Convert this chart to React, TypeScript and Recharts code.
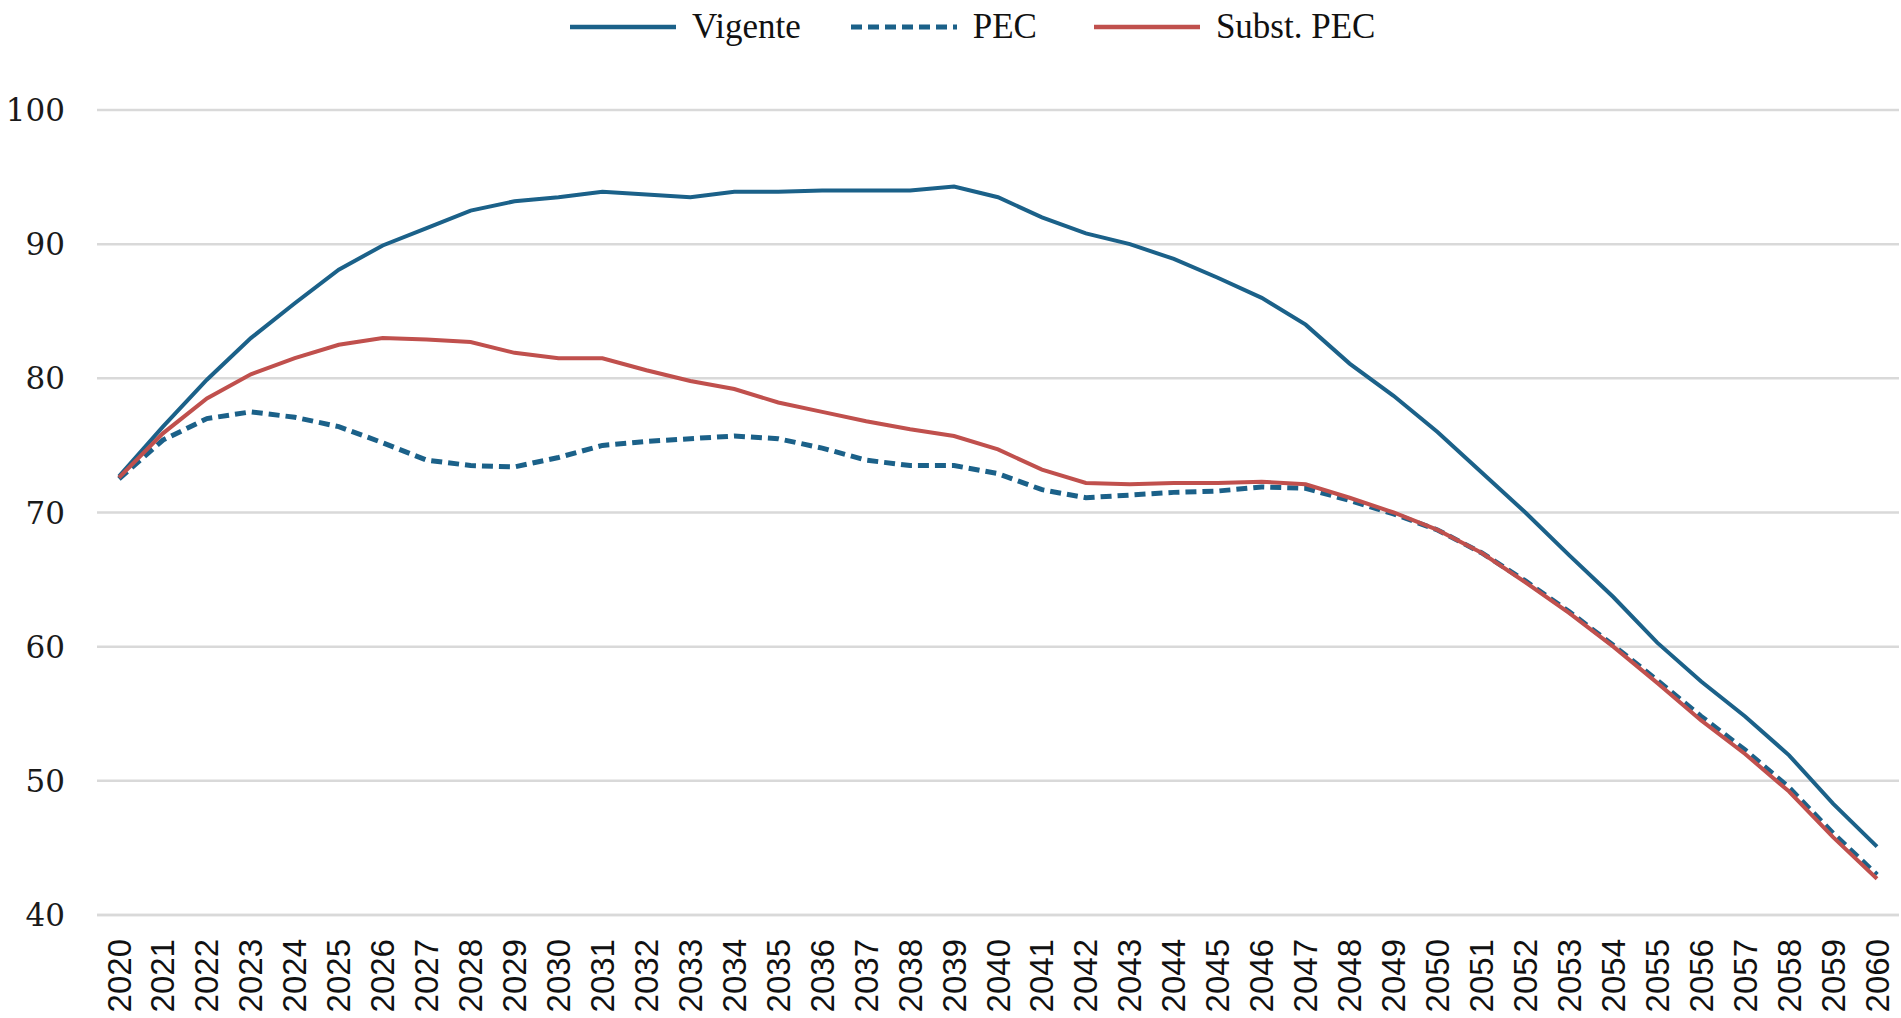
import React from 'react';
import { LineChart, Line, XAxis, YAxis, CartesianGrid } from 'recharts';

// anos do eixo horizontal
const years = [
  '2020', '2021', '2022', '2023', '2024', '2025', '2026', '2027', '2028', '2029',
  '2030', '2031', '2032', '2033', '2034', '2035', '2036', '2037', '2038', '2039',
  '2040', '2041', '2042', '2043', '2044', '2045', '2046', '2047', '2048', '2049',
  '2050', '2051', '2052', '2053', '2054', '2055', '2056', '2057', '2058', '2059',
  '2060',
];

const vigente = [
  72.7, 76.4, 79.9, 83.0, 85.6, 88.1, 89.9, 91.2, 92.5, 93.2,
  93.5, 93.9, 93.7, 93.5, 93.9, 93.9, 94.0, 94.0, 94.0, 94.3,
  93.5, 92.0, 90.8, 90.0, 88.9, 87.5, 86.0, 84.0, 81.1, 78.7,
  76.0, 73.0, 70.0, 66.8, 63.7, 60.3, 57.4, 54.8, 51.9, 48.3,
  45.1,
];

const pec = [
  72.5, 75.4, 77.0, 77.5, 77.1, 76.4, 75.2, 73.9, 73.5, 73.4,
  74.1, 75.0, 75.3, 75.5, 75.7, 75.5, 74.8, 73.9, 73.5, 73.5,
  72.9, 71.7, 71.1, 71.3, 71.5, 71.6, 71.9, 71.8, 70.9, 69.9,
  68.7, 67.0, 64.9, 62.6, 60.1, 57.5, 54.8, 52.3, 49.5, 46.1,
  43.0,
];

const substPec = [
  72.6, 75.9, 78.5, 80.3, 81.5, 82.5, 83.0, 82.9, 82.7, 81.9,
  81.5, 81.5, 80.6, 79.8, 79.2, 78.2, 77.5, 76.8, 76.2, 75.7,
  74.7, 73.2, 72.2, 72.1, 72.2, 72.2, 72.3, 72.1, 71.1, 70.0,
  68.7, 67.0, 64.8, 62.5, 60.0, 57.3, 54.5, 52.0, 49.2, 45.8,
  42.7,
];

const yTicks = [40, 50, 60, 70, 80, 90, 100];

const BLUE = '#1b6189';
const RED = '#c0504d';
const GRID = '#d9d9d9';

const chartData = years.map((year, i) => ({
  year,
  vigente: vigente[i],
  pec: pec[i],
  substPec: substPec[i],
}));

const YearTick = ({ x, y, payload }: any) => (
  <text
    x={x}
    y={y}
    transform={`rotate(-90, ${x}, ${y})`}
    textAnchor="end"
    dominantBaseline="central"
    fontFamily="'Liberation Sans', Arial, sans-serif"
    fontSize={33}
    fill="#111"
  >
    {payload.value}
  </text>
);

const legendItems = [
  { label: 'Vigente', color: BLUE, dash: undefined, width: 4.5, gap: 50 },
  { label: 'PEC', color: BLUE, dash: '11 6', width: 5, gap: 57 },
  { label: 'Subst. PEC', color: RED, dash: undefined, width: 4.5, gap: 0 },
];

const ChartLegend = () => (
  <div
    style={{
      position: 'absolute',
      left: 570,
      top: 6,
      height: 42,
      display: 'flex',
      alignItems: 'center',
      fontFamily: "'Liberation Serif', serif",
      fontSize: 35,
      color: '#111',
      whiteSpace: 'nowrap',
    }}
  >
    {legendItems.map((item) => (
      <div
        key={item.label}
        style={{ display: 'flex', alignItems: 'center', marginRight: item.gap }}
      >
        <svg width={106} height={10} style={{ marginRight: 16 }}>
          <line
            x1={0}
            y1={5}
            x2={106}
            y2={5}
            stroke={item.color}
            strokeWidth={item.width}
            strokeDasharray={item.dash}
          />
        </svg>
        <span>{item.label}</span>
      </div>
    ))}
  </div>
);

export default function App() {
  return (
    <div style={{ position: 'absolute', left: 0, top: 0, width: 1901, height: 1018, background: '#fff' }}>
      <ChartLegend />
      <LineChart
        width={1901}
        height={1018}
        data={chartData}
        margin={{ top: 110, right: 2, left: 0, bottom: 0 }}
      >
        <CartesianGrid vertical={false} stroke={GRID} strokeWidth={2.5} />
        <XAxis
          dataKey="year"
          interval={0}
          height={103}
          padding={{ left: 22, right: 22 }}
          tick={<YearTick />}
          tickLine={false}
          tickSize={0}
          tickMargin={24}
          axisLine={{ stroke: GRID, strokeWidth: 2.5 }}
        />
        <YAxis
          domain={[40, 100]}
          ticks={yTicks}
          width={97}
          axisLine={false}
          tickLine={false}
          tickSize={0}
          tickMargin={32}
          tick={{ fontFamily: "'DejaVu Serif', serif", fontSize: 31, fill: '#1a1a1a' }}
        />
        <Line
          type="linear"
          dataKey="vigente"
          stroke={BLUE}
          strokeWidth={4}
          dot={false}
          isAnimationActive={false}
        />
        <Line
          type="linear"
          dataKey="pec"
          stroke={BLUE}
          strokeWidth={5}
          strokeDasharray="11 6"
          dot={false}
          isAnimationActive={false}
        />
        <Line
          type="linear"
          dataKey="substPec"
          stroke={RED}
          strokeWidth={4}
          dot={false}
          isAnimationActive={false}
        />
      </LineChart>
    </div>
  );
}
